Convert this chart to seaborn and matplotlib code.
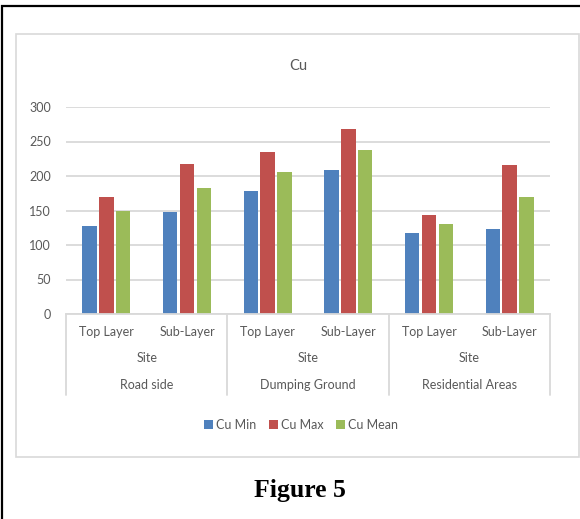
import matplotlib
matplotlib.use("Agg")
import matplotlib.pyplot as plt
import matplotlib.transforms as mtransforms
from matplotlib.patches import Rectangle, Patch
from matplotlib.lines import Line2D
import pandas as pd
import seaborn as sns

# Copper concentrations by site and soil layer
sites = ["Road side", "Dumping Ground", "Residential Areas"]
layers = ["Top Layer", "Sub-Layer"]
group_label = "Site"
series_names = ["Cu Min", "Cu Max", "Cu Mean"]
cu_min = [128, 148, 178, 208, 118, 123]
cu_max = [170, 218, 235, 268, 144, 216]
cu_mean = [149, 183, 206, 238, 131, 169]
y_ticks = [0, 50, 100, 150, 200, 250, 300]

colors = ["#4F81BD", "#C0504D", "#9BBB59"]
text_gray = "#595959"
line_gray = "#D9D9D9"

sns.set_theme(style="white")
plt.rcParams["font.family"] = ["Lato", "DejaVu Sans"]

slots = [f"{s}|{l}" for s in sites for l in layers]
rows = []
for name, vals in zip(series_names, [cu_min, cu_max, cu_mean]):
    for slot, v in zip(slots, vals):
        rows.append({"slot": slot, "series": name, "value": v})
df = pd.DataFrame(rows)

W, H = 580, 519
fig = plt.figure(figsize=(W / 100, H / 100), dpi=100)
fig.patch.set_facecolor("white")

def fx(px):
    return px / W

def fy(py):
    return 1 - py / H

ax = fig.add_axes([fx(66), fy(314), fx(550) - fx(66), fy(107) - fy(314)])
sns.barplot(data=df, x="slot", y="value", hue="series", order=slots,
            hue_order=series_names, palette=colors, saturation=1,
            width=0.62, gap=0.14, ax=ax, legend=False, linewidth=0)

ax.set_xlim(-0.5, len(slots) - 0.5)
ax.set_ylim(0, 300)
ax.set_yticks(y_ticks)
ax.set_yticklabels([str(t) for t in y_ticks], color=text_gray, fontsize=9)
ax.tick_params(axis="y", length=0, pad=11)
ax.set_xticks([])
ax.set_xlabel("")
ax.set_ylabel("")
ax.yaxis.grid(True, color=line_gray, linewidth=1.3)
ax.set_axisbelow(True)
for side in ["left", "right", "top"]:
    ax.spines[side].set_visible(False)
ax.spines["bottom"].set_color(line_gray)
ax.spines["bottom"].set_linewidth(1.3)

# Multi-level category axis: layer, "Site", site name
tr = mtransforms.blended_transform_factory(ax.transData, fig.transFigure)
for i, slot in enumerate(slots):
    ax.text(i, fy(332), slot.split("|")[1], transform=tr, ha="center",
            va="center", fontsize=9, color=text_gray, clip_on=False)
for g, site in enumerate(sites):
    cx = 2 * g + 0.5
    ax.text(cx, fy(358), group_label, transform=tr, ha="center", va="center",
            fontsize=9, color=text_gray, clip_on=False)
    ax.text(cx, fy(385), site, transform=tr, ha="center", va="center",
            fontsize=9, color=text_gray, clip_on=False)
for b in [-0.5, 1.5, 3.5, 5.5]:
    ax.add_line(Line2D([b, b], [fy(314), fy(395)], transform=tr,
                       color=line_gray, linewidth=1.3, clip_on=False))

fig.text(fx(298), fy(66), "Cu", ha="center", va="center", fontsize=10.5,
         color=text_gray)

handles = [Patch(facecolor=c, edgecolor="none") for c in colors]
fig.legend(handles, series_names, loc="center", bbox_to_anchor=(fx(301), fy(425)),
           ncol=3, frameon=False, fontsize=9, handlelength=0.7,
           handleheight=0.7, handletextpad=0.25, columnspacing=1.0,
           labelcolor=text_gray)

# Chart frame and page border
fig.add_artist(Rectangle((fx(16), fy(457)), fx(579) - fx(16), fy(34) - fy(457),
                         transform=fig.transFigure, fill=False,
                         edgecolor=line_gray, linewidth=1.2))
fig.add_artist(Rectangle((fx(1.5), fy(530)), fx(600), fy(5.5) - fy(530),
                         transform=fig.transFigure, fill=False,
                         edgecolor="black", linewidth=1.6))

fig.text(fx(300), fy(491), "Figure 5", ha="center", va="center",
         fontsize=18.5, fontweight="bold", family="Liberation Serif", color="black")

fig.savefig("out.png", dpi=100)
